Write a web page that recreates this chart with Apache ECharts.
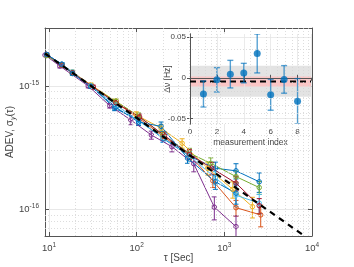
<!DOCTYPE html>
<html><head><meta charset="utf-8">
<script src="https://cdn.jsdelivr.net/npm/echarts@6/dist/echarts.min.js"></script>
<style>html,body{margin:0;padding:0;background:#fff}#c{width:354px;height:267px}</style>
</head><body><div id="c"></div>
<script>
// ---------- DATA (ADEV in units of 1e-16) ----------
const colors = ['#0072BD','#D95319','#EDB120','#7E2F8E','#77AC30','#4DBEEE','#A2142F','#0072BD'];

const tau1 = [9.4, 14, 18.5, 30, 56, 105, 200, 400, 790, 1358, 2500];
const adev1 = [18.0, 15.0, 12.7, 10.0, 6.6, 5.3, 3.75, 2.7, 2.15, 2.05, 1.67];
const err1 = [0.36, 0.45, 0.38, 0.35, 0.3, 0.32, 0.26, 0.24, 0.26, 0.29, 0.30];

const tau2 = [9.4, 14, 18.5, 30, 58, 105, 200, 400, 740, 1358, 2600];
const adev2 = [17.8, 14.7, 12.8, 10.0, 7.3, 5.5, 3.9, 2.75, 1.70, 1.03, 0.90];
const err2 = [0.36, 0.44, 0.38, 0.35, 0.33, 0.33, 0.27, 0.25, 0.2, 0.15, 0.18];

const tau3 = [9.4, 14, 18.5, 30, 58, 99, 190, 330, 646, 1250, 2090];
const adev3 = [17.8, 14.8, 13.0, 10.2, 7.5, 5.82, 4.54, 3.43, 2.15, 1.45, 1.05];
const err3 = [0.36, 0.44, 0.39, 0.36, 0.34, 0.35, 0.32, 0.3, 0.26, 0.22, 0.2];

const tau4 = [9.0, 13.3, 28, 49.3, 85.5, 147, 252, 448, 769, 1358];
const adev4 = [17.8, 14.5, 10.0, 6.92, 5.3, 4.0, 3.22, 2.34, 1.04, 0.723];
const err4 = [0.36, 0.5, 0.35, 0.3, 0.45, 0.3, 0.3, 0.33, 0.22, 0.16];

const tau5 = [9.4, 14, 18.5, 30, 58, 105, 200, 400, 700, 1358, 2500];
const adev5 = [17.6, 14.8, 12.7, 10.0, 7.5, 5.7, 4.0, 2.85, 2.36, 1.84, 1.50];
const err5 = [0.35, 0.44, 0.38, 0.35, 0.34, 0.34, 0.3, 0.27, 0.25, 0.2, 0.18];

const tau6 = [9.4, 14, 18.5, 30, 58, 105, 200, 400, 790, 1358, 2500];
const adev6 = [18.0, 15.0, 13.0, 10.0, 7.0, 5.2, 3.8, 2.7, 1.8, 1.30, 1.12];
const err6 = [0.36, 0.45, 0.39, 0.35, 0.32, 0.32, 0.28, 0.25, 0.22, 0.25, 0.2];

const tau7 = [9.4, 14, 18.5, 32, 58, 108, 208, 400, 720, 1358, 2500];
const adev7 = [18.0, 14.8, 12.8, 9.8, 7.3, 5.6, 3.95, 2.8, 2.15, 1.63, 1.07];
const err7 = [0.36, 0.44, 0.38, 0.34, 0.33, 0.33, 0.28, 0.26, 0.25, 0.22, 0.15];

const tau8 = [9.4, 14, 18.5, 30, 58, 105, 190, 380, 790, 1358];
const adev8 = [18.0, 15.0, 12.6, 9.9, 6.7, 5.1, 4.7, 2.6, 1.67, 1.35];
const err8 = [0.36, 0.45, 0.38, 0.35, 0.3, 0.32, 0.4, 0.24, 0.22, 0.25];

// tau^-1/2 reference line
const fitTau = [9, 8000];
const fitAdev = [18.33, 0.615];

// minor grid positions
const xMinor = [20,30,40,50,60,70,80,90,200,300,400,500,600,700,800,900,2000,3000,4000,5000,6000,7000,8000,9000];
const yMinor = [0.7,0.8,0.9,2,3,4,5,6,7,8,9,20];

// inset: frequency offsets
const measIdx = [1, 2, 3, 4, 5, 6, 7, 8];
const dNu = [-0.020, -0.0025, 0.0045, 0.0058, 0.030, -0.021, -0.002, -0.029];
const dNuErr = [0.016, 0.015, 0.017, 0.012, 0.024, 0.019, 0.017, 0.028];
const meanDNu = -0.0045;
const bandGray = [-0.0235, 0.0148];
const bandRed = [-0.0106, 0.0017];
const insetYTicks = [-0.05, 0, 0.05];

// ---------- CHART ----------
const taus = [tau1,tau2,tau3,tau4,tau5,tau6,tau7,tau8];
const adevs = [adev1,adev2,adev3,adev4,adev5,adev6,adev7,adev8];
const errs = [err1,err2,err3,err4,err5,err6,err7,err8];
const FONT = 'Liberation Sans, Arial, sans-serif';
const AX = '#555';
const LBL = '#444';

function errSeries(data, color, xi, yi, capW, lw, z) {
  return {
    type: 'custom', xAxisIndex: xi, yAxisIndex: yi, clip: true, z: z, silent: true,
    data: data,
    renderItem: function (params, api) {
      const x = api.value(0), y = api.value(1), e = api.value(2);
      const lo = api.coord([x, (y - e) > 0 || yi > 1 ? y - e : 1e-6]);
      const hi = api.coord([x, y + e]);
      const w = capW / 2;
      const st = { stroke: color, lineWidth: lw };
      return { type: 'group', children: [
        { type: 'line', shape: { x1: lo[0], y1: lo[1], x2: hi[0], y2: hi[1] }, style: st },
        { type: 'line', shape: { x1: lo[0] - w, y1: lo[1], x2: lo[0] + w, y2: lo[1] }, style: st },
        { type: 'line', shape: { x1: hi[0] - w, y1: hi[1], x2: hi[0] + w, y2: hi[1] }, style: st }
      ]};
    }
  };
}

const series = [];
// minor dotted grid (main)
series.push({
  type: 'line', xAxisIndex: 0, yAxisIndex: 0, data: [[10, 1]], symbol: 'none', z: 0,
  lineStyle: { opacity: 0 }, silent: true,
  markLine: {
    silent: true, symbol: 'none', label: { show: false }, animation: false,
    lineStyle: { color: '#d4d4d4', type: [1, 2], width: 0.8 },
    data: xMinor.map(v => ({ xAxis: v })).concat(yMinor.map(v => ({ yAxis: v })))
  }
});
for (let k = 0; k < 8; k++) {
  const c = colors[k];
  series.push({
    type: 'line', xAxisIndex: 0, yAxisIndex: 0, z: 2,
    data: taus[k].map((t, i) => [t, adevs[k][i]]),
    symbol: 'circle', symbolSize: 4.5,
    itemStyle: { color: 'rgba(255,255,255,0)', borderColor: c, borderWidth: 1 },
    lineStyle: { color: c, width: 1 }
  });
  series.push(errSeries(taus[k].map((t, i) => [t, adevs[k][i], errs[k][i]]), c, 0, 0, 5, 1, 2));
}
series.push({
  type: 'line', xAxisIndex: 0, yAxisIndex: 0, z: 5, symbol: 'none',
  data: fitTau.map((t, i) => [t, fitAdev[i]]),
  lineStyle: { color: '#000', width: 2.2, type: [6, 5] }
});

// inset bands
series.push({
  type: 'line', xAxisIndex: 2, yAxisIndex: 2, data: [[0, 0]], symbol: 'none', z: 1.6,
  lineStyle: { opacity: 0 }, silent: true,
  markArea: {
    silent: true, animation: false,
    data: [
      [{ yAxis: bandGray[0], itemStyle: { color: '#e3e3e3' } }, { yAxis: bandGray[1] }],
      [{ yAxis: bandRed[0], itemStyle: { color: '#fbc6c6' } }, { yAxis: bandRed[1] }]
    ]
  }
});
series.push({
  type: 'line', xAxisIndex: 2, yAxisIndex: 2, z: 3, symbol: 'none',
  data: [[0, meanDNu], [9, meanDNu]],
  lineStyle: { color: '#000', width: 2, type: [6, 4] }
});
series.push(errSeries(measIdx.map((m, i) => [m, dNu[i], dNuErr[i]]), 'rgba(0,114,189,0.65)', 2, 2, 6, 1.4, 4));
series.push({
  type: 'scatter', xAxisIndex: 2, yAxisIndex: 2, z: 5,
  data: measIdx.map((m, i) => [m, dNu[i]]),
  symbol: 'circle', symbolSize: 7, itemStyle: { color: '#0072BD' }
});

const supRich = { sup: { fontSize: 6.5, fontFamily: FONT, color: LBL, padding: [0, 0, 6, 0] } };

const option = {
  animation: false,
  textStyle: { fontFamily: FONT },
  grid: [
    { left: 45, right: 42, top: 28, bottom: 31, z: 0, outerBoundsMode: 'none', containLabel: false },
    { left: 190, right: 43, top: 34, height: 90, show: true, backgroundColor: '#fff', borderWidth: 0, z: 1,
      outerBoundsMode: 'none', containLabel: false }
  ],
  xAxis: [
    { type: 'log', gridIndex: 0, min: 9, max: 10000, position: 'bottom',
      axisLine: { lineStyle: { color: AX } },
      axisTick: { inside: true, length: 4, lineStyle: { color: AX } },
      splitLine: { show: true, lineStyle: { color: '#e2e2e2', width: 0.8 } },
      axisLabel: { showMinLabel: false, color: LBL, fontSize: 9.5, margin: 6,
        formatter: v => '10{sup|' + Math.round(Math.log10(v)) + '}', rich: supRich },
      name: 'τ [Sec]', nameLocation: 'middle', nameGap: 17, nameMoveOverlap: false,
      nameTextStyle: { color: LBL, fontSize: 10, fontFamily: FONT } },
    { type: 'log', gridIndex: 0, min: 9, max: 10000, position: 'top',
      axisLine: { lineStyle: { color: AX } },
      axisTick: { inside: true, length: 4, lineStyle: { color: AX } },
      splitLine: { show: false }, axisLabel: { show: false } },
    { type: 'value', gridIndex: 1, min: 0, max: 9, interval: 2, position: 'bottom', z: 1.5,
      axisLine: { lineStyle: { color: AX } },
      axisTick: { inside: true, length: 3, lineStyle: { color: AX } },
      splitLine: { show: true, lineStyle: { color: '#e6e6e6', width: 0.8 } },
      axisLabel: { showMaxLabel: false, color: LBL, fontSize: 8, margin: 4 },
      name: 'measurement index', nameLocation: 'middle', nameGap: 14, nameMoveOverlap: false,
      nameTextStyle: { color: LBL, fontSize: 8.5, fontFamily: FONT } },
    { type: 'value', gridIndex: 1, min: 0, max: 9, interval: 2, position: 'top', z: 1.5,
      axisLine: { lineStyle: { color: AX } },
      axisTick: { inside: true, length: 3, lineStyle: { color: AX } },
      splitLine: { show: false }, axisLabel: { show: false } }
  ],
  yAxis: [
    { type: 'log', gridIndex: 0, min: 0.607, max: 29.5, position: 'left',
      axisLine: { lineStyle: { color: AX } },
      axisTick: { inside: true, length: 4, lineStyle: { color: AX } },
      splitLine: { show: true, lineStyle: { color: '#e2e2e2', width: 0.8 } },
      axisLabel: { showMinLabel: false, showMaxLabel: false, color: LBL, fontSize: 9.5, margin: 6,
        formatter: v => '10{sup|' + (Math.round(Math.log10(v)) - 16) + '}', rich: supRich },
      name: 'ADEV, σ{sub|y}(τ)', nameLocation: 'middle', nameGap: 28, nameMoveOverlap: false,
      nameTextStyle: { color: LBL, fontSize: 10, fontFamily: FONT,
        rich: { sub: { fontSize: 7, fontFamily: FONT, color: LBL, padding: [6, 0, 0, 0], fontStyle: 'italic' } } } },
    { type: 'log', gridIndex: 0, min: 0.607, max: 29.5, position: 'right',
      axisLine: { lineStyle: { color: AX } },
      axisTick: { inside: true, length: 4, lineStyle: { color: AX } },
      splitLine: { show: false }, axisLabel: { show: false } },
    { type: 'value', gridIndex: 1, min: -0.057, max: 0.054, position: 'left', z: 1.5,
      axisLine: { lineStyle: { color: AX } },
      axisTick: { inside: true, length: 3, customValues: insetYTicks, lineStyle: { color: AX } },
      splitLine: { show: true, lineStyle: { color: '#e6e6e6', width: 0.8 } },
      axisLabel: { customValues: insetYTicks, color: LBL, fontSize: 8, margin: 4,
        formatter: v => (Math.abs(v) < 1e-9 ? '0' : v.toFixed(2)) },
      name: 'Δν [Hz]', nameLocation: 'middle', nameGap: 18, nameMoveOverlap: false,
      nameTextStyle: { color: LBL, fontSize: 8.5, fontFamily: FONT } },
    { type: 'value', gridIndex: 1, min: -0.057, max: 0.054, position: 'right', z: 1.5,
      axisLine: { lineStyle: { color: AX } },
      axisTick: { inside: true, length: 3, customValues: insetYTicks, lineStyle: { color: AX } },
      splitLine: { show: false }, axisLabel: { show: false } }
  ],
  series: series
};
const chart = echarts.init(document.getElementById('c'), null, { renderer: 'canvas' });
chart.setOption(option);
</script></body></html>
